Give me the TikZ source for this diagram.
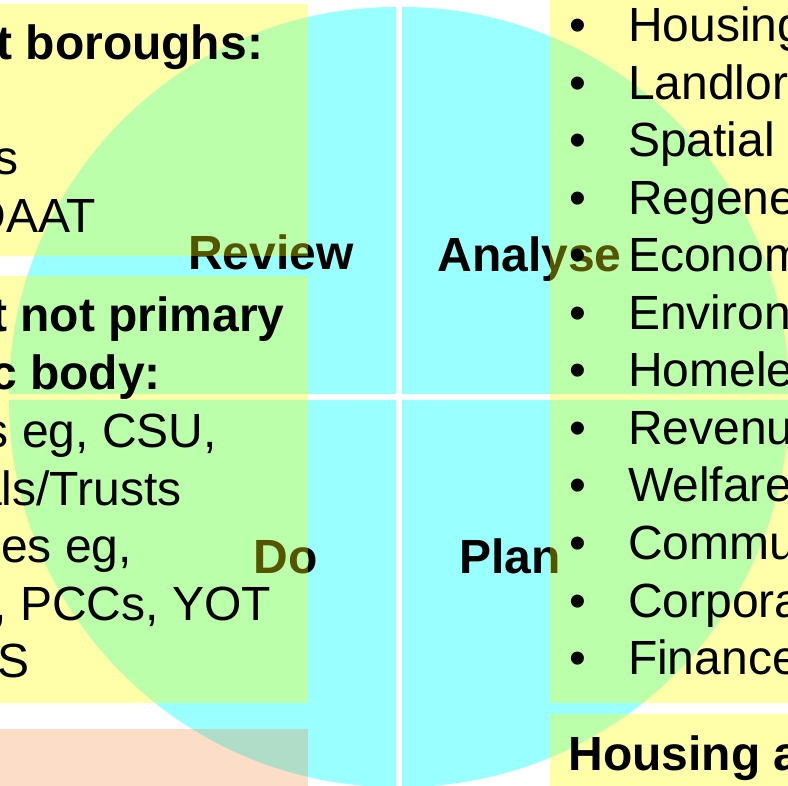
\documentclass[tikz,border=0pt]{standalone}
\usepackage{fontspec}
\setmainfont{Liberation Sans}
\definecolor{qcyan}{RGB}{153,255,255}
\definecolor{hiyellow}{RGB}{255,255,0}
\definecolor{hiorange}{RGB}{243,123,35}
\newcommand{\slidefont}{\fontsize{48}{57.6}\selectfont}
\begin{document}
\begin{tikzpicture}[x=1pt,y=-1pt,
  quad/.style={fill=qcyan},
  ybox/.style={fill=hiyellow,fill opacity=0.333},
  obox/.style={fill=hiorange,fill opacity=0.25},
  txt/.style={inner sep=0pt,outer sep=0pt,font=\slidefont,text=black},
  phase/.style={txt,font=\slidefont\bfseries,anchor=base west},
  lcut/.style={txt,anchor=base east},
  lcutb/.style={lcut,font=\slidefont\bfseries},
  item/.style={txt,anchor=base west},
  dot/.style={txt,anchor=base}]
\useasboundingbox (0,0) rectangle (788,786);
\clip (0,0) rectangle (788,786);

% four quadrants of the cycle, separated by thin white gaps
\fill[quad] (396,394) -- ++(-387pt,0pt) arc[start angle=180,end angle=90,radius=387pt] -- cycle;
\fill[quad] (402,394) -- ++(0pt,387pt) arc[start angle=90,end angle=0,radius=387pt] -- cycle;
\fill[quad] (396,400) -- ++(-387pt,0pt) arc[start angle=180,end angle=270,radius=387pt] -- cycle;
\fill[quad] (402,400) -- ++(387pt,0pt) arc[start angle=0,end angle=-90,radius=387pt] -- cycle;

% phase labels
\node[phase] (review)  at (188,270) {Review};
\node[phase] (analyse) at (437.5,272) {Analyse};
\node[phase] (do)      at (253.5,573) {Do};
\node[phase] (plan)    at (459.5,573) {Plan};

% translucent text panels
\fill[ybox] (0,4) rectangle (308,256);
\fill[ybox] (0,276) rectangle (308,703);
\fill[ybox] (550,0) rectangle (788,703);
\fill[ybox] (550,714) rectangle (788,786);
\fill[obox] (0,729) rectangle (308,786);

% left panels
\node[lcutb] (boroughs) at (263,60) {t boroughs:};
\node[lcut]  (lineS)    at (18.5,175) {s};
\node[lcut]  (daat)     at (96,232.5) {DAAT};
\node[lcutb] (primary)  at (284.5,332) {t not primary};
\node[lcutb] (body)     at (161,390) {c body:};
\node[lcut]  (csu)      at (217,448) {s eg, CSU,};
\node[lcut]  (trusts)   at (181.5,505) {als/Trusts};
\node[lcut]  (eg)       at (132,562) {es eg,};
\node[lcut]  (pccs)     at (271,620) {, PCCs, YOT};
\node[lcut]  (lineSS)   at (29.5,677) {S};

% right panel: bullet list
\foreach \word [count=\i] in {Housing,Landlor,Spatial,Regene,Econom,Environ,Homele,Revenu,Welfare,Commu,Corpora,Finance}{
  \pgfmathsetmacro{\yy}{42+57.5*(\i-1)}
  \node[dot]  (dot\i)  at (577.5,\yy) {•};
  \node[item] (item\i) at (628,\yy) {\word};
}

% bottom right panel heading
\node[phase] (housing) at (568.5,770) {Housing a};
\end{tikzpicture}
\end{document}
